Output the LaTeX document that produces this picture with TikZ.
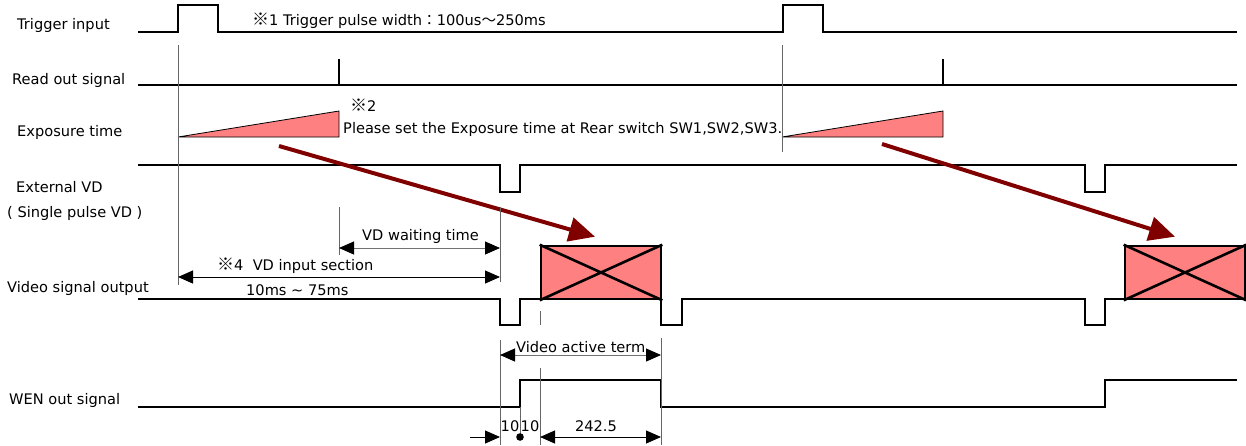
\documentclass[tikz,border=0pt]{standalone}
\usepackage{fontspec}
\setmainfont{DejaVu Sans}
\newfontfamily\cjk{Noto Sans CJK JP}
\newcommand{\refmark}{{\cjk\fontsize{17}{17}\selectfont ※}}
\usepackage{tikz}
\usetikzlibrary{arrows.meta,calc}
\definecolor{expopink}{HTML}{FF8080}
\definecolor{flowred}{HTML}{800000}
\tikzset{
  sig/.style={line width=2.6pt},
  guide/.style={line width=0.9pt,draw=black!60},
  dimtip/.tip={Triangle[length=15pt,width=13pt,color=black]},
  dimline/.style={line width=1pt,draw=black!55,dimtip-dimtip},
  lbl/.style={anchor=west,inner sep=0pt,font=\fontsize{14.6}{17}\selectfont},
  numlbl/.style={inner sep=0pt,font=\fontsize{14.6}{17}\selectfont},
  shot/.style={draw,fill=expopink,line width=2.6pt,inner sep=0pt,
    minimum width=120pt,minimum height=53pt},
  flow/.style={draw=flowred,line width=4pt,-{Triangle[length=26pt,width=24pt]}},
}

\begin{document}
\begin{tikzpicture}[x=1pt,y=-1pt]
    \useasboundingbox (0,0) rectangle (1246,445);
    % signal names
    \node[lbl] (trig) at (17,25) {Trigger input};
    \node[lbl] (rdout) at (12,80) {Read out signal};
    \node[lbl] (expo) at (17,132) {Exposure time};
    \node[lbl] (extvd) at (16,187) {External VD};
    \node[lbl] (single) at (7,213) {( Single pulse VD )};
    \node[lbl] (video) at (7,288) {Video signal output};
    \node[lbl] (wen) at (9,400) {WEN out signal};
    % timing instants
    \coordinate (t0) at (178,0);
    \coordinate (t1) at (339,0);
    \coordinate (t2) at (500,0);
    \coordinate (t3) at (520,0);
    \coordinate (t4) at (540,0);
    \coordinate (t5) at (661,0);
    % waveforms
    \draw[sig] (138,32) -| (178,5) -| (218,32) -| (783,5) -| (823,32) -- (1237,32);
    \draw[sig] (138,85) -- (1237,85);
    \foreach \x in {339,943}{
      \draw[sig] (\x,59) -- (\x,85);
    }
    \draw[sig] (138,165) -| (500,192) -| (520,165) -| (1085,192) -| (1105,165) -- (1237,165);
    \draw[sig] (138,299) -| (500,325) -| (520,299) -| (661,325) -| (682,299) -| (1085,325) -| (1105,299) -- (1237,299);
    \draw[sig] (138,407) -| (520,380) -| (661,407) -| (1105,380) -- (1237,380);
    \foreach \s in {178,782}{
      \draw[fill=expopink,line width=0.8pt] (\s,137) -- (\s+161,111) -- (\s+161,137) -- cycle;
    }
    % image output frames
    \node[shot] (shot1) at (601,272.5) {};
    \node[shot] (shot2) at (1185,272.5) {};
    \foreach \b in {shot1,shot2}{
      \draw[line width=2.6pt] (\b.north west) -- (\b.south east) (\b.south west) -- (\b.north east);
    }
    \coordinate (e1) at (279,146);
    \coordinate (e2) at (882,144);
    \draw[flow] (e1) -- ($(shot1.north)+(-6,-8)$);
    \draw[flow] (e2) -- ($(shot2.north)+(-10,-8)$);
    % guide lines
    \draw[guide] (t0 |- 0,45) -- (t0 |- 0,285);
    \draw[guide] (782,45) -- (782,152);
    \draw[guide] (t1 |- 0,207) -- (t1 |- 0,255);
    \draw[guide] (t2 |- 0,207) -- (t2 |- 0,282);
    \draw[guide] (t2 |- 0,340) -- (t2 |- 0,445);
    \draw[guide] (t3 |- 0,407) -- (t3 |- 0,437);
    \draw[guide] (t4 |- 0,311) -- (t4 |- 0,325);
    \draw[guide] (t4 |- 0,368) -- (t4 |- 0,445);
    \draw[guide] (t5 |- 0,338) -- (t5 |- 0,445);
    % dimensions
    \draw[dimline] (t1 |- 0,248) -- (t2 |- 0,248);
    \draw[dimline,draw=black] (t0 |- 0,277) -- (t2 |- 0,277);
    \draw[dimline] (t2 |- 0,355) -- (t5 |- 0,355);
    \coordinate (d0) at (470,437);
    \draw[line width=1pt,-dimtip] (d0) -- (t2 |- d0);
    \fill (t3 |- d0) circle (3.8);
    \draw[dimline,draw=black] (t4 |- d0) -- (t5 |- d0);
    % notes
    \node[lbl] (note1) at (252,21) {\refmark1 Trigger pulse width{\cjk ：}100us{\cjk ～}250ms};
    \node[lbl] (note2) at (350,105) {\refmark2};
    \node[lbl] (note2b) at (343,129) {Please set the Exposure time at Rear switch SW1,SW2,SW3.};
    \node[lbl] (vdwait) at (362,236) {VD waiting time};
    \node[lbl] (vdin) at (217,266) {\refmark4\ \ VD input section};
    \node[lbl] (vdrange) at (246,290) {10ms ∼ 75ms};
    \node[lbl] (active) at (516,347) {Video active term};
    \node[numlbl] (w1) at (510,426) {10};
    \node[numlbl] (w2) at (530,426) {10};
    \node[numlbl] (w3) at (596,426) {242.5};
\end{tikzpicture}
\end{document}
